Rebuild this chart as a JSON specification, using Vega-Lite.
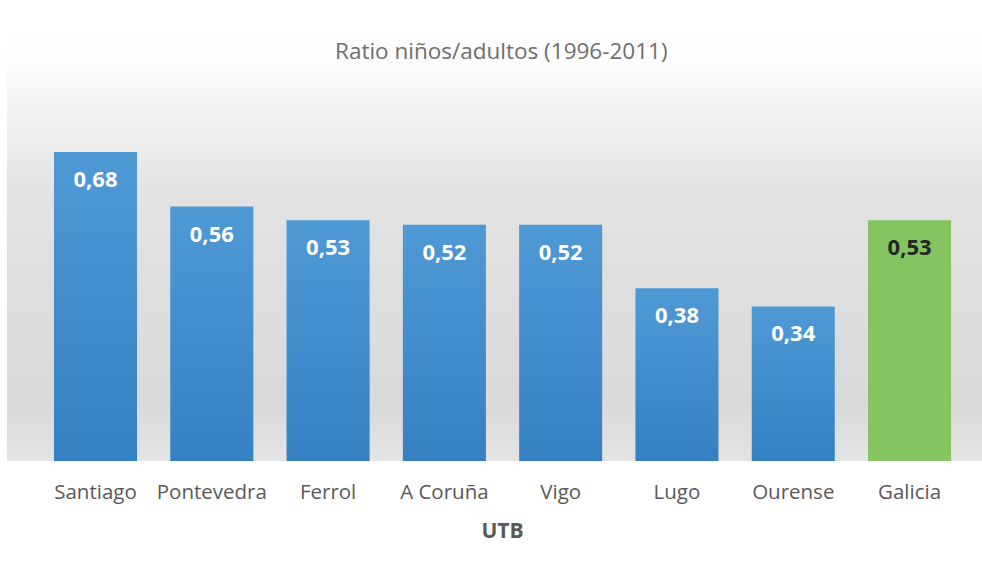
{
  "$schema": "https://vega.github.io/schema/vega-lite/v6.json",
  "autosize": "none",
  "width": 975,
  "height": 449,
  "padding": {"left": 7, "top": 12, "right": 0, "bottom": 111},
  "background": "white",
  "title": {
    "text": "Ratio niños/adultos (1996-2011)",
    "font": "Open Sans",
    "fontSize": 22.5,
    "fontWeight": "normal",
    "color": "#6e6e6e",
    "offset": -51,
    "anchor": "start",
    "dx": 328
  },
  "data": {
    "values": [
      {"utb": "Santiago", "ratio": 0.68, "label": "0,68", "grupo": "UTB"},
      {"utb": "Pontevedra", "ratio": 0.56, "label": "0,56", "grupo": "UTB"},
      {"utb": "Ferrol", "ratio": 0.53, "label": "0,53", "grupo": "UTB"},
      {"utb": "A Coruña", "ratio": 0.52, "label": "0,52", "grupo": "UTB"},
      {"utb": "Vigo", "ratio": 0.52, "label": "0,52", "grupo": "UTB"},
      {"utb": "Lugo", "ratio": 0.38, "label": "0,38", "grupo": "UTB"},
      {"utb": "Ourense", "ratio": 0.34, "label": "0,34", "grupo": "UTB"},
      {"utb": "Galicia", "ratio": 0.53, "label": "0,53", "grupo": "Galicia"}
    ]
  },
  "encoding": {
    "x": {
      "field": "utb",
      "type": "nominal",
      "sort": null,
      "scale": {"paddingInner": 0.286, "paddingOuter": 0.335, "align": 0.603},
      "axis": {
        "title": "UTB",
        "labelAngle": 0,
        "labelFont": "Open Sans",
        "labelFontSize": 20.5,
        "labelColor": "#595959",
        "labelPadding": 21,
        "ticks": false,
        "domain": false,
        "titleFont": "Open Sans",
        "titleFontSize": 21,
        "titleFontWeight": "bold",
        "titleColor": "#595959",
        "titlePadding": 18,
        "titleX": 495
      }
    },
    "y": {
      "field": "ratio",
      "type": "quantitative",
      "scale": {"domain": [0, 0.988]},
      "axis": null
    }
  },
  "layer": [
    {
      "transform": [{"filter": "datum.grupo === 'UTB'"}],
      "mark": {
        "type": "bar",
        "color": {
          "gradient": "linear",
          "x1": 0, "y1": 0, "x2": 0, "y2": 1,
          "stops": [
            {"offset": 0, "color": "#4f99d5"},
            {"offset": 1, "color": "#3580c3"}
          ]
        }
      }
    },
    {
      "transform": [{"filter": "datum.grupo === 'Galicia'"}],
      "mark": {"type": "bar", "color": "#84c562"}
    },
    {
      "transform": [{"filter": "datum.grupo === 'UTB'"}],
      "mark": {"type": "text", "baseline": "middle", "dy": 28, "font": "Open Sans", "fontSize": 22, "fontWeight": "bold", "color": "white"},
      "encoding": {"text": {"field": "label"}}
    },
    {
      "transform": [{"filter": "datum.grupo === 'Galicia'"}],
      "mark": {"type": "text", "baseline": "middle", "dy": 28, "font": "Open Sans", "fontSize": 22, "fontWeight": "bold", "color": "#262626"},
      "encoding": {"text": {"field": "label"}}
    }
  ],
  "config": {
    "view": {
      "stroke": null,
      "fill": {
        "gradient": "linear",
        "x1": 0, "y1": 0, "x2": 0, "y2": 1,
        "stops": [
          {"offset": 0, "color": "#ffffff"},
          {"offset": 0.11, "color": "#fdfdfd"},
          {"offset": 0.4, "color": "#e2e3e2"},
          {"offset": 0.87, "color": "#d8d9d8"},
          {"offset": 1, "color": "#e3e4e3"}
        ]
      }
    }
  }
}
